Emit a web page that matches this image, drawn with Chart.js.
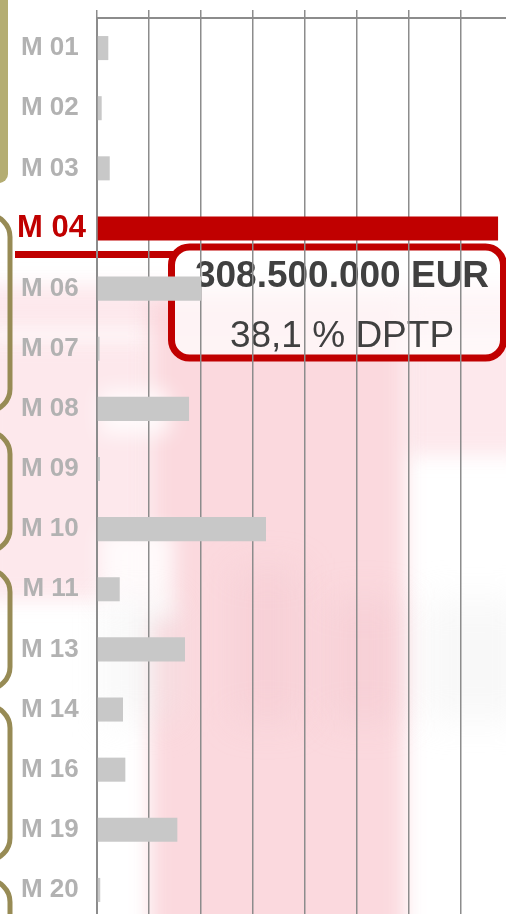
<!DOCTYPE html>
<html>
<head>
<meta charset="utf-8">
<script src="https://cdn.jsdelivr.net/npm/chart.js@4/dist/chart.umd.min.js"></script>
<style>
  html, body { margin: 0; padding: 0; overflow: hidden; background: #fff; }
  canvas { display: block; }
</style>
</head>
<body>
<canvas id="chart" width="506" height="930"></canvas>
<script>
// data, millions of EUR
const categories = ['M 01', 'M 02', 'M 03', 'M 04', 'M 06', 'M 07', 'M 08', 'M 09', 'M 10', 'M 11', 'M 13', 'M 14', 'M 16', 'M 19', 'M 20']
const amounts = [8.7, 3.6, 9.8, 308.5, 80, 2, 70.8, 2.3, 130, 17.5, 67.7, 20, 21.8, 61.8, 2.5]
const gridValues = [0, 40, 80, 120, 160, 200, 240, 280]
const highlight = 'M 04'
const calloutLines = ['308.500.000 EUR', '38,1 % DPTP']

const hi = categories.indexOf(highlight)
const RED = '#c00000'
const GREY_BAR = '#c8c8c8'
const GREY_TXT = '#b2b2b2'
const LINE = '#8c8c8c'
const OLIVE = '#978b55'
const FONT = '"Liberation Sans", Arial, sans-serif'

function roundRect(ctx, x, y, w, h, r) {
  ctx.beginPath()
  ctx.moveTo(x + r, y)
  ctx.arcTo(x + w, y, x + w, y + h, r)
  ctx.arcTo(x + w, y + h, x, y + h, r)
  ctx.arcTo(x, y + h, x, y, r)
  ctx.arcTo(x, y, x + w, y, r)
  ctx.closePath()
}

// slide background: faded watermark, olive brackets, callout box
const backdrop = {
  id: 'backdrop',
  beforeDraw(chart) {
    const ctx = chart.ctx
    const y = chart.scales.y
    ctx.save()
    ctx.fillStyle = '#fff'
    ctx.fillRect(0, 0, chart.width, chart.height)

    ctx.filter = 'blur(10px)'
    ctx.fillStyle = 'rgba(250, 205, 212, 0.45)'
    ctx.fillRect(-20, 285, 560, 45)
    ctx.fillRect(-20, 340, 170, 260)
    ctx.fillRect(405, 300, 120, 155)
    ctx.fillStyle = 'rgba(250, 210, 216, 0.85)'
    ctx.fillRect(150, 300, 255, 640)
    ctx.fillStyle = 'rgba(255, 255, 255, 0.8)'
    ctx.fillRect(100, 390, 70, 45)
    ctx.fillRect(100, 530, 75, 90)
    ctx.filter = 'blur(18px)'
    ctx.fillStyle = 'rgba(235, 235, 235, 0.35)'
    ctx.fillRect(105, 600, 70, 120)
    ctx.fillRect(425, 600, 100, 120)
    ctx.fillStyle = 'rgba(240, 190, 198, 0.3)'
    ctx.fillRect(235, 570, 65, 150)
    ctx.fillRect(330, 600, 70, 120)
    ctx.filter = 'none'

    // olive side decorations
    ctx.fillStyle = '#b4ad72'
    roundRect(ctx, -30, -20, 38, 203, 9)
    ctx.fill()
    ctx.strokeStyle = OLIVE
    ctx.lineWidth = 5
    const brackets = [[215, 411], [432, 551], [570, 689], [706, 860], [880, 980]]
    brackets.forEach(([a, b]) => {
      roundRect(ctx, -40, a, 50, b - a, 22)
      ctx.stroke()
    })

    // callout box
    const yc = y.getPixelForValue(hi)
    ctx.fillStyle = 'rgba(255, 255, 255, 0.7)'
    roundRect(ctx, 171.5, yc + 18.5, 332, 111, 18)
    ctx.fill()
    ctx.strokeStyle = RED
    ctx.lineWidth = 7
    ctx.stroke()
    ctx.beginPath()
    ctx.moveTo(15, yc + 26)
    ctx.lineTo(175, yc + 26)
    ctx.stroke()

    ctx.fillStyle = '#404040'
    ctx.textAlign = 'center'
    ctx.textBaseline = 'alphabetic'
    ctx.font = 'bold 37px ' + FONT
    ctx.fillText(calloutLines[0], 342, yc + 58.5)
    ctx.font = '37px ' + FONT
    ctx.fillText(calloutLines[1], 342, yc + 119)
    ctx.restore()
  }
}

new Chart(document.getElementById('chart'), {
  type: 'bar',
  data: {
    labels: categories,
    datasets: [{
      data: amounts,
      backgroundColor: categories.map((c, i) => i === hi ? RED : GREY_BAR),
      barPercentage: 0.4,
      categoryPercentage: 1
    }]
  },
  options: {
    indexAxis: 'y',
    responsive: false,
    animation: false,
    layout: { padding: { top: 10, bottom: 10, left: 0, right: 0 } },
    plugins: { legend: { display: false }, tooltip: { enabled: false } },
    scales: {
      x: {
        type: 'linear',
        position: 'top',
        min: 0,
        max: 314.6,
        ticks: { display: false },
        afterBuildTicks: (s) => { s.ticks = gridValues.map(v => ({ value: v })) },
        afterFit: (s) => { s.height = 8 },
        grid: { color: LINE, lineWidth: 1.5, tickLength: 8, drawTicks: true },
        border: { display: true, color: LINE, width: 2 }
      },
      y: {
        afterFit: (s) => {
          s.width = 97
          s.paddingTop = 0
          s.paddingBottom = 0
        },
        grid: { display: false, drawTicks: false },
        border: { display: true, color: LINE, width: 2 },
        ticks: {
          autoSkip: false,
          padding: 11,
          callback: (v, i) => i === hi ? categories[i] : categories[i] + ' ',
          color: (c) => c.index === hi ? RED : GREY_TXT,
          font: (c) => ({ family: FONT, weight: 'bold', size: c.index === hi ? 31 : 26 })
        }
      }
    }
  },
  plugins: [backdrop]
})
</script>
</body>
</html>
